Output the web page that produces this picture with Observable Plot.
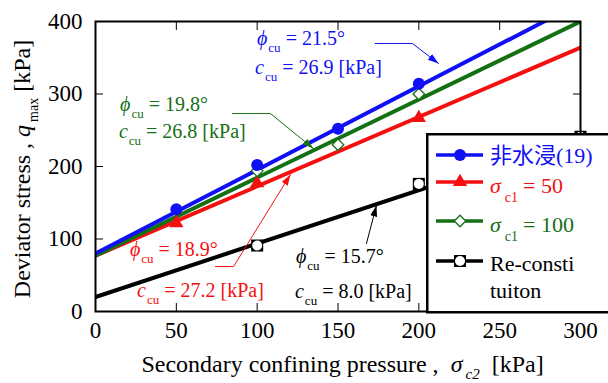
<!DOCTYPE html>
<html><head><meta charset="utf-8">
<script src="https://cdn.jsdelivr.net/npm/d3@7"></script>
<script src="https://cdn.jsdelivr.net/npm/@observablehq/plot@0.6"></script>
<style>
html,body{margin:0;padding:0;background:#fff;overflow:hidden;}
#wrap{position:relative;width:608px;height:383px;overflow:hidden;background:#fff;}
#legend{position:absolute;left:426px;top:133px;}
</style></head><body><div id="wrap"></div>
<script>
// ---- data ----
const xTicks = [0, 50, 100, 150, 200, 250, 300];
const yTicks = [0, 100, 200, 300, 400];

const blueX = [50, 100, 150, 200];
const blueY = [141, 202, 252, 314];
const redX = [50, 100, 200];
const redY = [122, 177, 267];
const greenX = [100, 150, 200];
const greenY = [194, 230, 300];
const blackX = [100, 200, 300];
const blackY = [91, 176, 241];

// fitted failure lines, value at sigma_c2 = 0 and 300
const fitX = [0, 300];
const blueFit = [80, 426];
const redFit = [77, 364];
const greenFit = [77, 400];
const blackFit = [20, 241];

const seriesLabels = ["非水浸(19)", "= 50", "= 100", "Re-consti", "tuiton"];
// annotation order: blue, green, red, black
const phiValues = ["21.5", "19.8", "18.9", "15.7"];
const cValues = ["26.9", "26.8", "27.2", "8.0"];

// annotation anchors (data units)
const phiAnchorX = [100.2, 15.5, 21.6, 124.3];
const phiAnchorY = [367, 276, 76, 66];
const cAnchorX = [99.0, 14.8, 26.0, 123.7];
const cAnchorY = [327, 238.6, 19.3, 17.9];
// leader arrows (data units)
const blueArrowX = [173, 196, 212.2], blueArrowY = [369.7, 369.7, 342];
const greenArrowX = [84.7, 108.2, 134.8], greenArrowY = [273, 273, 224.8];
const redArrowX = [74.2, 85.4, 120.6], redArrowY = [62, 62, 189];
const blackArrowX = [167.6, 173.8], blackArrowY = [93.8, 146.2];

// ---- styles ----
const BLUE = "#1010f5", RED = "#f51010", GREEN = "#137013", BLACK = "#000";
const colors = [BLUE, RED, GREEN, BLACK];
const annColors = [BLUE, GREEN, RED, BLACK];
const SERIF = "'Liberation Serif', 'Times New Roman', 'Noto Sans CJK JP', serif";

const zip = (xs, ys) => xs.map((x, i) => ({x, y: ys[i]}));

function filledArrow(color) {
  const m = d3.create("svg:marker")
    .attr("viewBox", "-11 -5 11 10")
    .attr("markerWidth", 11).attr("markerHeight", 10)
    .attr("markerUnits", "userSpaceOnUse")
    .attr("orient", "auto")
    .attr("fill", color).attr("stroke", "none");
  m.append("path").attr("d", "M-11,-3.5L0,0L-11,3.5Z");
  return m.node();
}

const lineOpts = (c) => ({x: "x", y: "y", stroke: c, strokeWidth: 4, clip: true});
const arrowOpts = (c) => ({x: "x", y: "y", stroke: c, strokeWidth: 1, markerEnd: filledArrow});

const chart = Plot.plot({
  width: 608, height: 383,
  marginLeft: 95, marginRight: 28, marginTop: 21, marginBottom: 72,
  x: {domain: [0, 300]},
  y: {domain: [0, 400]},
  style: {fontFamily: SERIF, fontSize: "23px", color: "#000", background: "#fff"},
  marks: [
    Plot.line(zip(fitX, blackFit), lineOpts(BLACK)),
    Plot.line(zip(fitX, redFit), lineOpts(RED)),
    Plot.line(zip(fitX, greenFit), lineOpts(GREEN)),
    Plot.line(zip(fitX, blueFit), lineOpts(BLUE)),
    Plot.dot(zip(blackX, blackY), {x: "x", y: "y", symbol: "square", r: 6.8, fill: BLACK}),
    Plot.dot(zip(blackX, blackY), {x: "x", y: "y", r: 5, fill: "#fff"}),
    Plot.dot(zip(redX, redY), {x: "x", y: "y", symbol: "triangle", r: 5.3, fill: RED}),
    Plot.dot(zip(greenX, greenY), {x: "x", y: "y", symbol: "diamond2", r: 5.2, fill: "#fff", stroke: GREEN, strokeWidth: 1.3}),
    Plot.dot(zip(blueX, blueY), {x: "x", y: "y", r: 6, fill: BLUE}),
    Plot.line(zip(blueArrowX, blueArrowY), arrowOpts(BLUE)),
    Plot.line(zip(greenArrowX, greenArrowY), arrowOpts(GREEN)),
    Plot.line(zip(redArrowX, redArrowY), arrowOpts(RED)),
    Plot.line(zip(blackArrowX, blackArrowY), arrowOpts(BLACK)),
    Plot.frame({stroke: BLACK, strokeWidth: 2}),
    Plot.axisX(xTicks, {anchor: "bottom", tickSize: -8, tickPadding: 18, label: null, fontSize: 23}),
    Plot.axisX(xTicks, {anchor: "top", tickSize: -8, tickFormat: () => "", label: null}),
    Plot.axisY(yTicks, {anchor: "left", tickSize: -8, tickPadding: 21, label: null, fontSize: 23}),
    Plot.axisY(yTicks, {anchor: "right", tickSize: -8, tickFormat: () => "", label: null})
  ]
});
document.getElementById("wrap").appendChild(chart);

const sx = chart.scale("x"), sy = chart.scale("y");
const svg = d3.select(chart);

// annotations
function symText(g, x, y, color, sym, rest, size, subSize, subDy) {
  const t = g.append("text").attr("x", x).attr("y", y).attr("fill", color)
    .attr("text-anchor", "start")
    .attr("font-family", SERIF).attr("font-size", size);
  t.append("tspan").attr("font-style", "italic").text(sym);
  t.append("tspan").attr("font-size", subSize).attr("dy", subDy).attr("dx", 1).text("cu");
  t.append("tspan").attr("dy", -subDy).text(rest);
}
const ann = svg.append("g").attr("text-anchor", "start");
for (let i = 0; i < 4; i++) {
  symText(ann, sx.apply(phiAnchorX[i]), sy.apply(phiAnchorY[i]), annColors[i], "ϕ", " = " + phiValues[i] + "°", 20, 13, 7);
  symText(ann, sx.apply(cAnchorX[i]), sy.apply(cAnchorY[i]), annColors[i], "c", " = " + cValues[i] + " [kPa]", 20, 13, 7);
}

// axis labels
const xl = svg.append("text")
  .attr("x", (sx.apply(0) + sx.apply(300)) / 2 + 5).attr("y", sy.apply(0) + 61)
  .attr("text-anchor", "middle").attr("font-family", SERIF).attr("font-size", 24).attr("fill", "#000");
xl.append("tspan").text("Secondary confining pressure ,  ");
xl.append("tspan").attr("font-style", "italic").text("σ");
xl.append("tspan").attr("font-style", "italic").attr("font-size", 15).attr("dy", 7).attr("dx", 3).text("c2");
xl.append("tspan").attr("dy", -7).text("  [kPa]");

const yl = svg.append("text")
  .attr("transform", `translate(30,${(sy.apply(0) + sy.apply(400)) / 2 + 3}) rotate(-90)`)
  .attr("text-anchor", "middle").attr("font-family", SERIF).attr("font-size", 24).attr("fill", "#000");
yl.append("tspan").text("Deviator stress , ");
yl.append("tspan").attr("font-style", "italic").text("q");
yl.append("tspan").attr("font-size", 14).attr("dy", 8).attr("dx", 3).text("max");
yl.append("tspan").attr("dy", -8).text(" [kPa]");

// legend (overlapping the plot, as in the reference)
const lg = d3.select("#wrap").append("svg").attr("id", "legend")
  .attr("width", 190).attr("height", 185);
lg.append("rect").attr("x", 1.25).attr("y", 1.25).attr("width", 220).attr("height", 178)
  .attr("fill", "#fff").attr("stroke", "#000").attr("stroke-width", 2.5);
const rowY = [22, 49, 88, 128];
const textY = [30, 60, 99, 138, 165];
const symArea = (r) => Math.PI * r * r;
for (let i = 0; i < 4; i++) {
  lg.append("line").attr("x1", 10).attr("x2", 57).attr("y1", rowY[i]).attr("y2", rowY[i])
    .attr("stroke", colors[i]).attr("stroke-width", 3.5);
}
lg.append("circle").attr("cx", 34).attr("cy", rowY[0]).attr("r", 6).attr("fill", BLUE);
lg.append("path").attr("transform", `translate(34,${rowY[1]})`)
  .attr("d", d3.symbol(d3.symbolTriangle, symArea(5.3))()).attr("fill", RED);
lg.append("path").attr("transform", `translate(34,${rowY[2]})`)
  .attr("d", d3.symbol(d3.symbolDiamond2, symArea(5.2))()).attr("fill", "#fff").attr("stroke", GREEN).attr("stroke-width", 1.3);
lg.append("path").attr("transform", `translate(34,${rowY[3]})`)
  .attr("d", d3.symbol(d3.symbolSquare, symArea(6.8))()).attr("fill", BLACK);
lg.append("circle").attr("cx", 34).attr("cy", rowY[3]).attr("r", 5).attr("fill", "#fff");

const lt = (y, c) => lg.append("text").attr("x", 64).attr("y", y).attr("fill", c)
  .attr("font-family", SERIF).attr("font-size", 22);
lt(textY[0], BLUE).text(seriesLabels[0]);
for (const [k, c, lab] of [[1, RED, seriesLabels[1]], [2, GREEN, seriesLabels[2]]]) {
  const t = lt(textY[k], c);
  t.append("tspan").attr("font-style", "italic").text("σ");
  t.append("tspan").attr("font-size", 14).attr("dx", 4).attr("dy", 9).text("c1");
  t.append("tspan").attr("dx", 5).attr("dy", -9).text(lab);
}
lt(textY[3], BLACK).text(seriesLabels[3]);
lt(textY[4], BLACK).text(seriesLabels[4]);
</script></body></html>
